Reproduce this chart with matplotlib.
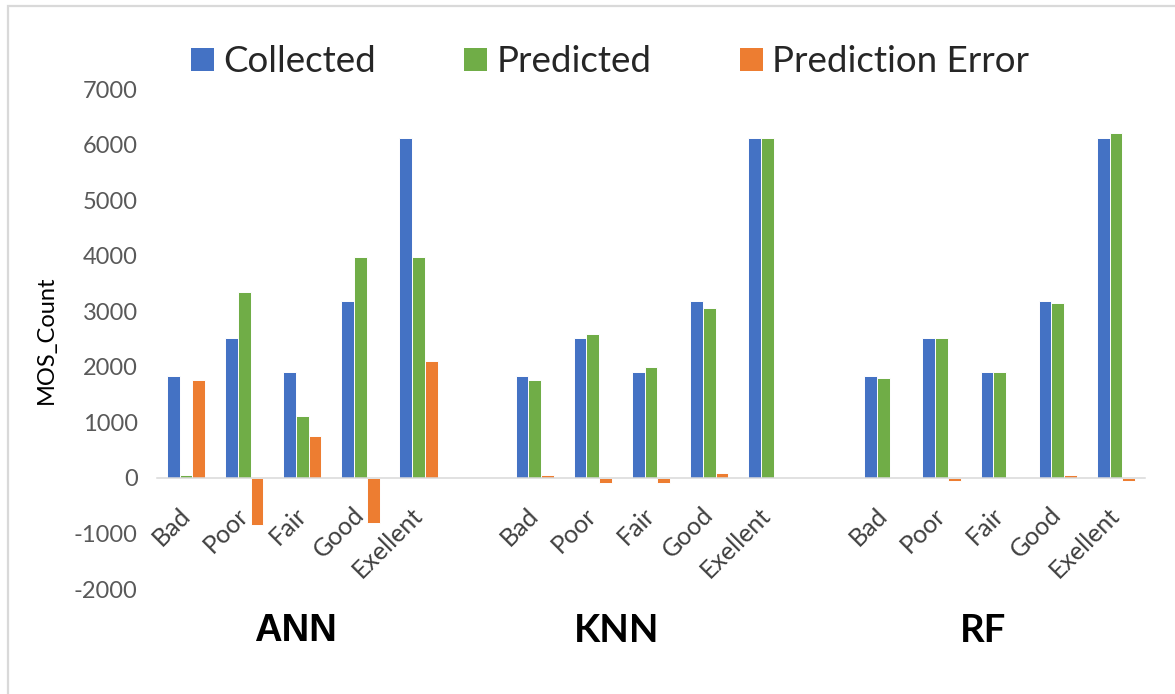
import matplotlib
matplotlib.use("Agg")
import matplotlib.pyplot as plt
from matplotlib.patches import Patch, Rectangle
import matplotlib.transforms as mtransforms

# ---- data -------------------------------------------------------------
categories = ["Bad", "Poor", "Fair", "Good", "Exellent"]
models = ["ANN", "KNN", "RF"]
series_names = ["Collected", "Predicted", "Prediction Error"]

collected = [1840, 2515, 1910, 3190, 6120]

ann_predicted = [50, 3345, 1115, 3975, 3975]
ann_error = [1755, -845, 755, -815, 2110]

knn_predicted = [1755, 2590, 1995, 3060, 6120]
knn_error = [50, -95, -95, 85, 0]

rf_predicted = [1795, 2515, 1910, 3150, 6210]
rf_error = [0, -60, 0, 50, -60]

y_ticks = [-2000, -1000, 0, 1000, 2000, 3000, 4000, 5000, 6000, 7000]

# ---- style ------------------------------------------------------------
BLUE, GREEN, ORANGE = "#4472C4", "#70AD47", "#ED7D31"
colors = [BLUE, GREEN, ORANGE]
FONT = "Lato"
W, H, DPI = 1175, 694, 100

fig = plt.figure(figsize=(W / DPI, H / DPI), dpi=DPI)
fig.patch.set_facecolor("white")

# chart frame (only top and left edges fall inside the canvas)
fig.patches.append(Rectangle((8 / W, -0.05), 1.2, 1 - 6 / H + 0.05,
                             transform=fig.transFigure, fill=False,
                             edgecolor="#D9D9D9", linewidth=1.6))

left, right, top, bottom = 157, 1145, 89, 589
ax = fig.add_axes([left / W, 1 - bottom / H, (right - left) / W, (bottom - top) / H])
ax.set_facecolor("none")

# ---- bars -------------------------------------------------------------
per_model = {
    "ANN": (collected, ann_predicted, ann_error),
    "KNN": (collected, knn_predicted, knn_error),
    "RF": (collected, rf_predicted, rf_error),
}
slot = len(categories) + 1          # one empty slot between model groups
bar_w = 0.22
offsets = [-bar_w, 0.0, bar_w]

tick_pos, tick_lab = [], []
for m, name in enumerate(models):
    base = [m * slot + c for c in range(len(categories))]
    tick_pos += base
    tick_lab += categories
    for s, values in enumerate(per_model[name]):
        xs = [b + offsets[s] for b, v in zip(base, values) if v != 0]
        vs = [v for v in values if v != 0]
        ax.bar(xs, vs, width=bar_w, color=colors[s], edgecolor="white",
               linewidth=0.7, zorder=2)

ax.set_xlim(-0.5, (len(models) - 1) * slot + len(categories) - 0.5)
ax.set_ylim(-2000, 7000)

# ---- axes styling ------------------------------------------------------
for side in ("top", "right", "left"):
    ax.spines[side].set_visible(False)
ax.spines["bottom"].set_position(("data", 0))
ax.spines["bottom"].set_color("#D9D9D9")
ax.spines["bottom"].set_linewidth(1.1)
ax.spines["bottom"].set_zorder(3)

ax.set_yticks(y_ticks)
ax.set_yticklabels([str(v) for v in y_ticks], fontfamily=FONT, fontsize=17,
                   color="#595959")
ax.tick_params(axis="y", length=0, pad=14)

ax.set_xticks(tick_pos)
ax.set_xticklabels(tick_lab, rotation=45, ha="right", va="center",
                   rotation_mode="anchor", fontfamily=FONT, fontsize=18,
                   color="#404040")
ax.tick_params(axis="x", length=0, pad=24)

# axis title
fig.text(46 / W, 1 - 340 / H, "MOS_Count", rotation=90, ha="center",
         va="center", fontfamily=FONT, fontsize=17, color="black")

# model group labels
blend = mtransforms.blended_transform_factory(ax.transData, fig.transFigure)
group_x = [1.875, 7.40, 13.71]
group_font = ["Liberation Sans", FONT, FONT]
for gx, name, fam in zip(group_x, models, group_font):
    fig.text(gx, 1 - 631 / H, name, transform=blend, ha="center", va="center",
             fontfamily=fam, fontweight="bold", fontsize=27.5, color="black")

# legend
handles = [Patch(facecolor=c, edgecolor="none") for c in colors]
fig.legend(handles, series_names, loc="center", ncol=3,
           bbox_to_anchor=(610 / W, 1 - 62 / H), frameon=False,
           prop={"family": FONT, "size": 26.5},
           handlelength=0.62, handleheight=0.62, handletextpad=0.25,
           columnspacing=2.4, labelcolor="#262626")

fig.savefig("out.png", dpi=DPI, facecolor="white")
